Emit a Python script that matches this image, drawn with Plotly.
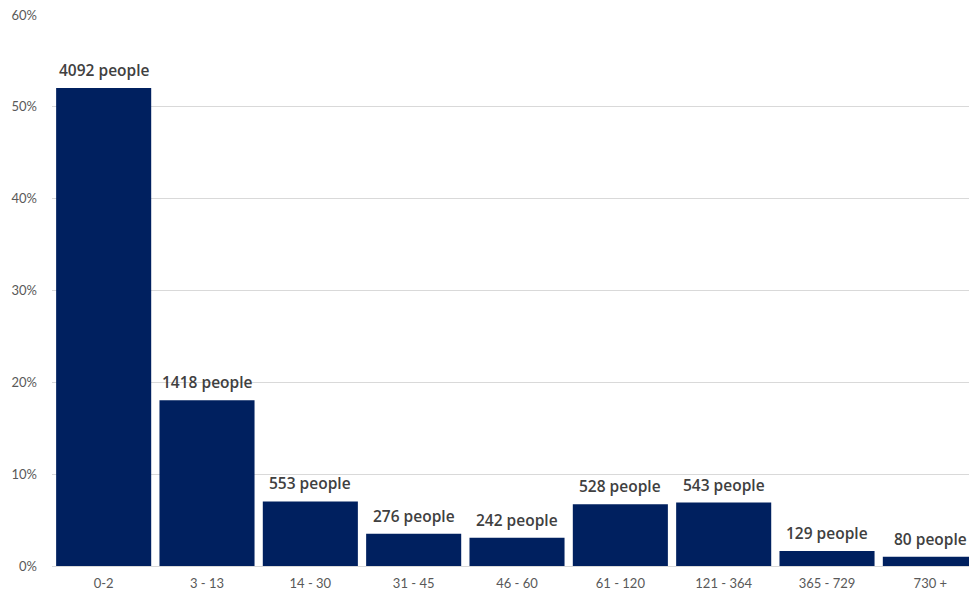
import plotly.graph_objects as go

categories = ["0-2", "3 - 13", "14 - 30", "31 - 45", "46 - 60", "61 - 120", "121 - 364", "365 - 729", "730 +"]
percent = [52.05, 18.04, 7.03, 3.51, 3.08, 6.72, 6.91, 1.64, 1.02]
people = [4092, 1418, 553, 276, 242, 528, 543, 129, 80]
y_ticks = [0, 10, 20, 30, 40, 50, 60]

fig = go.Figure(go.Bar(
    x=categories,
    y=percent,
    marker=dict(color="#00205F", line=dict(width=0)),
    hoverinfo="skip",
))

for c, p, n in zip(categories, percent, people):
    fig.add_annotation(
        x=c, y=p, text=f"{n} people", showarrow=False,
        yanchor="bottom", yshift=5,
        font=dict(family="Open Sans, sans-serif", size=15.5, color="#404040", weight=600),
    )

fig.update_layout(
    width=969, height=595,
    margin=dict(l=52, r=0, t=15, b=29),
    plot_bgcolor="white", paper_bgcolor="white",
    bargap=0.08,
    showlegend=False,
    font=dict(family="Lato, Open Sans, sans-serif", color="#595959", size=13),
)
fig.update_xaxes(
    range=[-0.5, 8.374],
    showgrid=False, showline=False, ticks="",
    ticklabelstandoff=8, automargin=False,
    tickfont=dict(size=13, color="#595959"),
)
fig.update_yaxes(
    range=[0, 60], tickvals=y_ticks, ticktext=[f"{v}%" for v in y_ticks],
    showgrid=True, gridcolor="#D9D9D9", gridwidth=1,
    zeroline=True, zerolinecolor="#D9D9D9", zerolinewidth=1,
    showline=False, ticks="", ticklabelstandoff=14, automargin=False,
    tickfont=dict(size=13, color="#595959"),
)

fig.write_html("out.html")
